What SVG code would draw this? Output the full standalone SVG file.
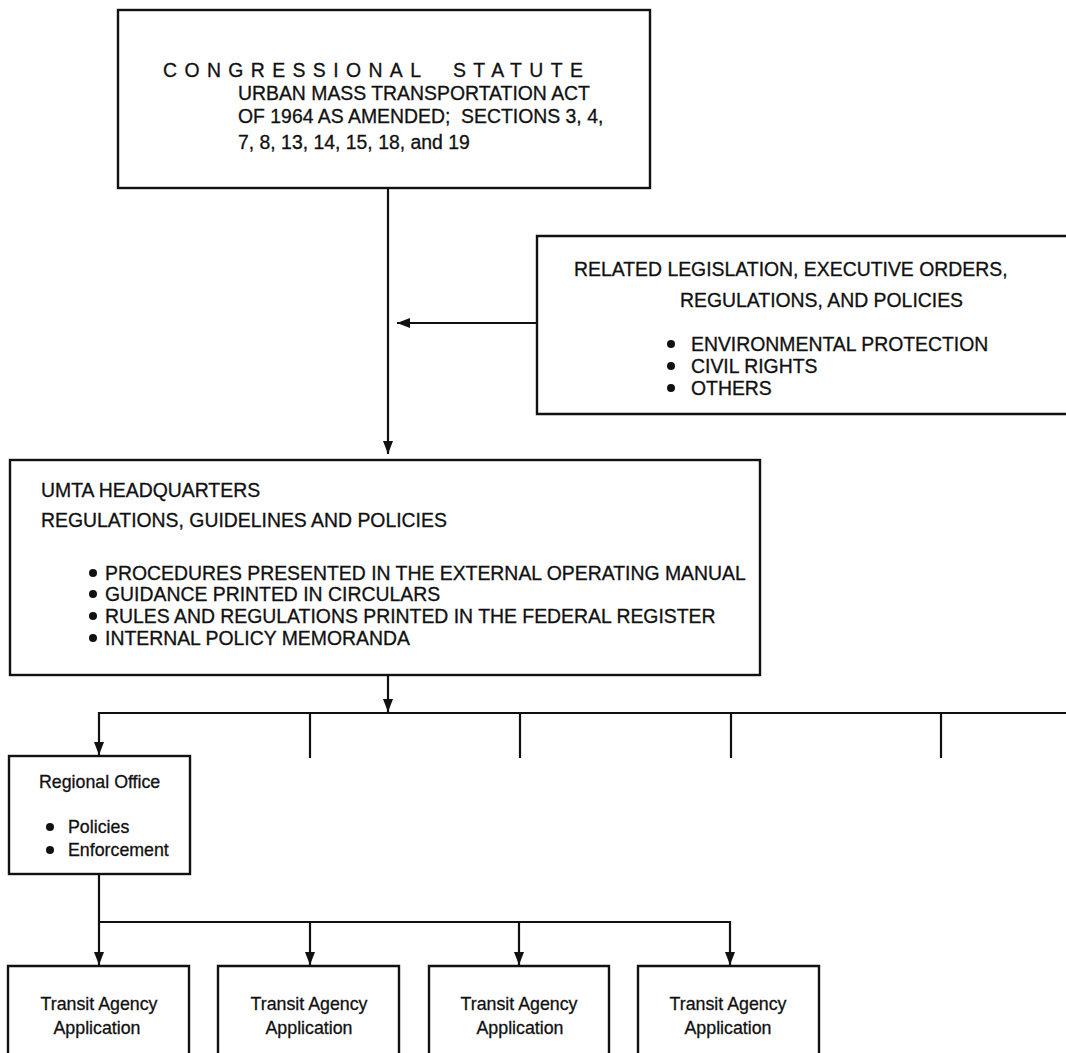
<svg xmlns="http://www.w3.org/2000/svg" width="1066" height="1053" viewBox="0 0 1066 1053">
<style>
.box{fill:#fff;stroke:#111;stroke-width:2.4}
.ln{fill:none;stroke:#111;stroke-width:2.2}
.t{font-family:"Liberation Sans",Arial,sans-serif;font-size:19.4px;fill:#111;stroke:#111;stroke-width:0.3}
.s{font-family:"Liberation Sans",Arial,sans-serif;font-size:17.8px;fill:#111;stroke:#111;stroke-width:0.3}
.c{text-anchor:middle}
.b{fill:#111}
</style>
<defs>
<marker id="ah" viewBox="0 0 13 10" refX="13" refY="5" markerWidth="13" markerHeight="10" orient="auto" markerUnits="userSpaceOnUse">
<path d="M0,0 L13,5 L0,10 z" fill="#111"/>
</marker>
</defs>
<rect width="1066" height="1053" fill="#fff"/>

<g id="connectors">
<line class="ln" x1="388" y1="188" x2="388" y2="454" marker-end="url(#ah)"/>
<line class="ln" x1="537" y1="323" x2="397" y2="323" marker-end="url(#ah)"/>
<line class="ln" x1="388" y1="675" x2="388" y2="712" marker-end="url(#ah)"/>
<path class="ln" d="M1068,713 H99 V755" marker-end="url(#ah)"/>
<line class="ln" x1="310" y1="713" x2="310" y2="758"/>
<line class="ln" x1="520" y1="713" x2="520" y2="758"/>
<line class="ln" x1="731" y1="713" x2="731" y2="758"/>
<line class="ln" x1="941" y1="713" x2="941" y2="758"/>
<line class="ln" x1="99" y1="874" x2="99" y2="965" marker-end="url(#ah)"/>
<path class="ln" d="M99,922 H730 V965" marker-end="url(#ah)"/>
<line class="ln" x1="310" y1="922" x2="310" y2="965" marker-end="url(#ah)"/>
<line class="ln" x1="519" y1="922" x2="519" y2="965" marker-end="url(#ah)"/>
</g>

<g id="congressional-statute">
<rect class="box" x="118" y="10" width="532" height="178"/>
<text class="t" x="163" y="77" letter-spacing="7.4">CONGRESSIONAL</text>
<text class="t" x="453" y="77" letter-spacing="7.4">STATUTE</text>
<text class="t" x="238" y="100">URBAN MASS TRANSPORTATION ACT</text>
<text class="t" x="238" y="123" xml:space="preserve">OF 1964 AS AMENDED;  SECTIONS 3, 4,</text>
<text class="t" x="238" y="149">7, 8, 13, 14, 15, 18, and 19</text>
</g>

<g id="related-legislation">
<path class="box" d="M1070,236 H537 V414 H1070"/>
<text class="t" x="574" y="276">RELATED LEGISLATION, EXECUTIVE ORDERS,</text>
<text class="t" x="680" y="307">REGULATIONS, AND POLICIES</text>
<circle class="b" cx="671" cy="344" r="4"/>
<text class="t" x="691" y="351">ENVIRONMENTAL PROTECTION</text>
<circle class="b" cx="671" cy="366" r="4"/>
<text class="t" x="691" y="373">CIVIL RIGHTS</text>
<circle class="b" cx="671" cy="388" r="4"/>
<text class="t" x="691" y="395">OTHERS</text>
</g>

<g id="umta-headquarters">
<rect class="box" x="10" y="460" width="750" height="215"/>
<text class="t" x="41" y="497">UMTA HEADQUARTERS</text>
<text class="t" x="41" y="527">REGULATIONS, GUIDELINES AND POLICIES</text>
<circle class="b" cx="93" cy="573" r="4"/>
<text class="t" x="105" y="580">PROCEDURES PRESENTED IN THE EXTERNAL OPERATING MANUAL</text>
<circle class="b" cx="93" cy="594" r="4"/>
<text class="t" x="105" y="601">GUIDANCE PRINTED IN CIRCULARS</text>
<circle class="b" cx="93" cy="616" r="4"/>
<text class="t" x="105" y="623">RULES AND REGULATIONS PRINTED IN THE FEDERAL REGISTER</text>
<circle class="b" cx="93" cy="638" r="4"/>
<text class="t" x="105" y="645">INTERNAL POLICY MEMORANDA</text>
</g>

<g id="regional-office">
<rect class="box" x="9" y="756" width="181" height="118"/>
<text class="s" x="39" y="788">Regional Office</text>
<circle class="b" cx="50" cy="827" r="4"/>
<text class="s" x="68" y="833">Policies</text>
<circle class="b" cx="50" cy="850" r="4"/>
<text class="s" x="68" y="856">Enforcement</text>
</g>

<g id="transit-agency-1">
<path class="box" d="M8,1060 V966 H189 V1060"/>
<text class="s c" x="99" y="1010">Transit Agency</text>
<text class="s c" x="97" y="1034">Application</text>
</g>
<g id="transit-agency-2">
<path class="box" d="M218,1060 V966 H399 V1060"/>
<text class="s c" x="309" y="1010">Transit Agency</text>
<text class="s c" x="309" y="1034">Application</text>
</g>
<g id="transit-agency-3">
<path class="box" d="M429,1060 V966 H609 V1060"/>
<text class="s c" x="519" y="1010">Transit Agency</text>
<text class="s c" x="520" y="1034">Application</text>
</g>
<g id="transit-agency-4">
<path class="box" d="M638,1060 V966 H819 V1060"/>
<text class="s c" x="728" y="1010">Transit Agency</text>
<text class="s c" x="728" y="1034">Application</text>
</g>
</svg>
